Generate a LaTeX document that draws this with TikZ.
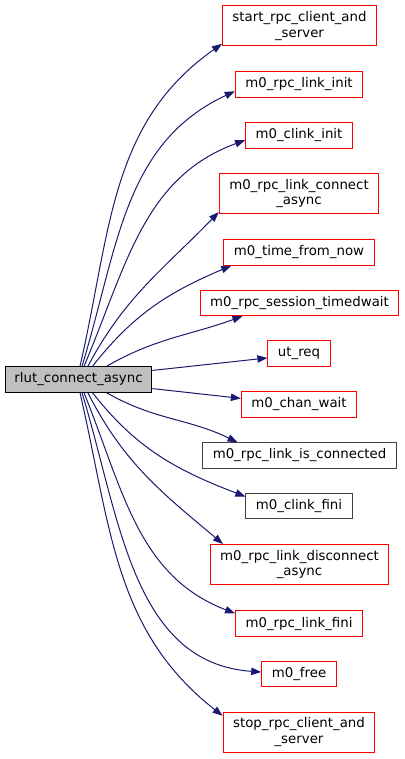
\documentclass[tikz,border=0pt]{standalone}
\usepackage{fontspec}
\setmainfont{DejaVu Sans}
\usetikzlibrary{arrows.meta}
\definecolor{edgeblue}{HTML}{191970}
\definecolor{srcgray}{HTML}{BFBFBF}
\definecolor{boxgray}{HTML}{404040}
\definecolor{boxred}{HTML}{FF0000}

\begin{document}
\begin{tikzpicture}[x=0.75pt,y=-0.75pt,
  fn/.style={draw=boxred,line width=0.75pt,font=\fontsize{10}{11.75}\selectfont,
    align=center,inner xsep=7.5pt,inner ysep=0pt,minimum height=19pt},
  fntwo/.style={fn,minimum height=30pt},
  fnblack/.style={fn,draw=boxgray},
  call/.style={draw=edgeblue,line width=0.75pt,
    -{Triangle[length=7.5pt,width=5.5pt]}}]
  \useasboundingbox (0,0) rectangle (404,759);
  % caller
  \node[fn,draw=black,fill=srcgray,inner xsep=7pt] (src) at (78.5,379.5) {rlut\_connect\_async};
  % callees
  \node[fntwo] (start) at (299.5,26) {start\_rpc\_client\_and\\\_server};
  \node[fn] (linkinit) at (299,84.5) {m0\_rpc\_link\_init};
  \node[fn] (clinkinit) at (299,135.5) {m0\_clink\_init};
  \node[fntwo,draw=boxred] (linkconn) at (299,193.5) {m0\_rpc\_link\_connect\\\_async};
  \node[fn] (timenow) at (299,252.5) {m0\_time\_from\_now};
  \node[fn] (timedwait) at (299.5,303) {m0\_rpc\_session\_timedwait};
  \node[fn] (utreq) at (299,353.5) {ut\_req};
  \node[fn] (chanwait) at (299,404.5) {m0\_chan\_wait};
  \node[fnblack] (isconn) at (299.5,455.5) {m0\_rpc\_link\_is\_connected};
  \node[fnblack] (clinkfini) at (299,506) {m0\_clink\_fini};
  \node[fntwo] (disconn) at (299.5,564.5) {m0\_rpc\_link\_disconnect\\\_async};
  \node[fn] (linkfini) at (299,623.5) {m0\_rpc\_link\_fini};
  \node[fn] (free) at (299,674) {m0\_free};
  \node[fntwo] (stop) at (299,732) {stop\_rpc\_client\_and\\\_server};
  % calls going up
  \draw[call] ([xshift=1.1pt]src.north) to[out=77,in=215] (start.193);
  \draw[call] ([xshift=2.6pt]src.north) to[out=73,in=205] (linkinit.186);
  \draw[call] ([xshift=4.1pt]src.north) to[out=67,in=200] (clinkinit.185);
  \draw[call] ([xshift=7pt]src.north) to[out=62,in=226] (linkconn.193);
  \draw[call] ([xshift=10.5pt]src.north) to[out=52,in=203] (timenow.191);
  \draw[call] ([xshift=21pt]src.north) to[out=30,in=200] (timedwait.193);
  % straight ones
  \draw[call] (src.7) -- (utreq.188);
  \draw[call] (src.353) -- (chanwait.174);
  % calls going down
  \draw[call] ([xshift=21pt]src.south) to[out=-30,in=154] (isconn.168);
  \draw[call] ([xshift=10.5pt]src.south) to[out=-52,in=159] (clinkfini.170);
  \draw[call] ([xshift=7pt]src.south) to[out=-63,in=140] (disconn.165);
  \draw[call] ([xshift=4.1pt]src.south) to[out=-68,in=159] (linkfini.171);
  \draw[call] ([xshift=2.6pt]src.south) to[out=-73,in=176] (free.177);
  \draw[call] ([xshift=1.1pt]src.south) to[out=-77,in=142] (stop.168);
\end{tikzpicture}
\end{document}
